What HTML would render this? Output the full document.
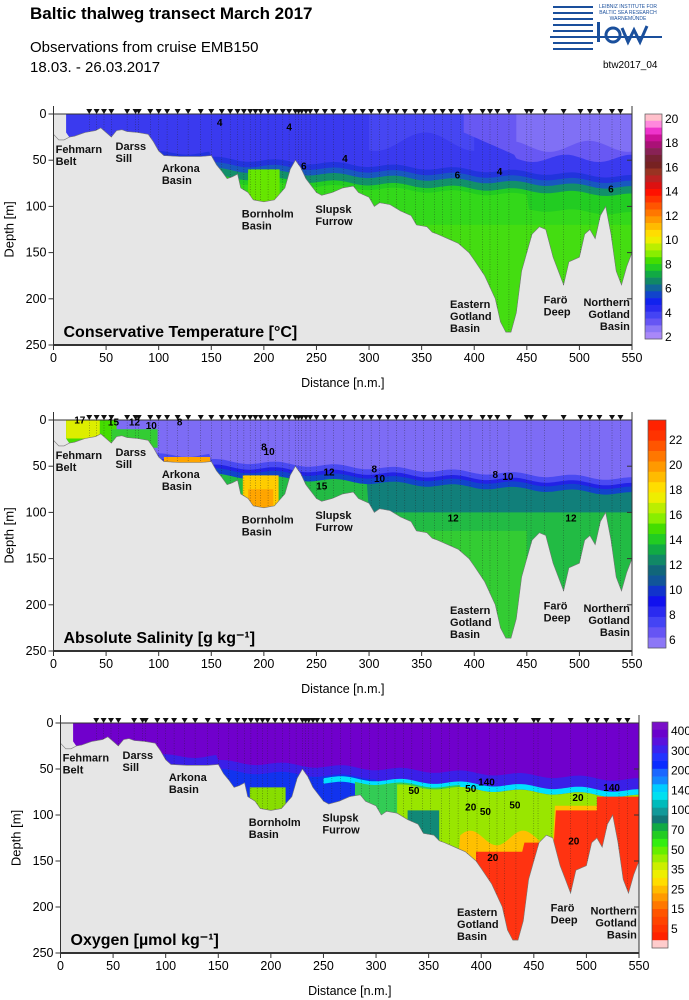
<!DOCTYPE html><html><head><meta charset="utf-8"><style>
body{margin:0;background:#fff;width:689px;height:1000px;overflow:hidden;font-family:"Liberation Sans",sans-serif}
svg{position:absolute;left:0;top:0}
</style></head><body>
<svg id="s" width="689" height="1000" xmlns="http://www.w3.org/2000/svg" font-family="Liberation Sans, sans-serif">
<text x="30" y="19" font-size="17" font-weight="bold">Baltic thalweg transect March 2017</text>
<text x="30" y="52" font-size="15">Observations from cruise EMB150</text>
<text x="30" y="72" font-size="15">18.03. - 26.03.2017</text>
<g fill="#1a4f9c">
<rect x="553" y="6" width="40" height="2"/><rect x="553" y="12" width="40" height="2"/><rect x="553" y="18" width="40" height="2"/><rect x="553" y="24" width="40" height="2"/><rect x="553" y="30" width="40" height="2"/><rect x="550" y="36" width="112" height="2"/><rect x="553" y="42" width="40" height="2"/><rect x="553" y="48" width="40" height="2"/>
<rect x="597" y="22" width="3" height="20"/><circle cx="613" cy="35" r="7" fill="none" stroke="#1a4f9c" stroke-width="3"/>
<path d="M622 28 L628 42 L634 30 L640 42 L647 26" fill="none" stroke="#1a4f9c" stroke-width="3"/>
<text x="628" y="8" font-size="5" text-anchor="middle">LEIBNIZ INSTITUTE FOR</text>
<text x="628" y="14" font-size="5" text-anchor="middle">BALTIC SEA RESEARCH</text>
<text x="628" y="20" font-size="5" text-anchor="middle">WARNEMÜNDE</text>
</g>
<text x="603" y="68" font-size="10">btw2017_04</text>
<g id="g"></g>
</svg>
<script>
var B=[[0,22],[5,28],[10,28],[15,25],[20,24],[25,22],[30,20],[40,18],[45,15],[50,20],[55,25],[60,18],[65,17],[70,19],[80,20],[90,22],[95,30],[100,40],[105,45],[120,46],[140,46],[150,45],[155,55],[160,62],[165,70],[170,68],[175,65],[178,80],[185,85],[190,93],[200,95],[210,93],[220,80],[225,60],[230,50],[235,58],[240,70],[250,85],[255,88],[265,85],[275,80],[285,78],[290,85],[300,90],[305,100],[310,96],[320,98],[330,105],[340,110],[345,120],[355,122],[360,128],[365,130],[375,135],[385,140],[395,150],[400,158],[410,175],[420,200],[425,225],[430,236],[435,236],[440,215],[445,170],[450,150],[455,130],[462,122],[468,125],[475,155],[480,170],[485,185],[490,160],[500,155],[505,130],[510,125],[515,135],[520,110],[525,100],[530,130],[535,170],[540,185],[545,165],[550,150]];
var ST=[34,41,48,55,70,78,81,92,100,108,118,128,140,150,160,168,175,181,187,192,197,204,211,218,224,230,233,236,240,244,250,258,266,276,286,294,302,310,318,326,334,344,352,362,370,378,387,396,408,415,422,433,450,454,467,485,501,510,519,531,539];
function th(x){var b=x<150?42:Math.min(48+(x-150)*0.05,68);return b+2*Math.sin(x/9);}
var out='',id=0;
function P(p){
 var sx=function(v){return p.x0+v*(p.x1-p.x0)/550},sy=function(d){return p.yt+d*(p.yb-p.yt)/250};
 var W=p.x1-p.x0,H=p.yb-p.yt;id++;
 out+='<rect x="'+p.x0+'" y="'+p.yt+'" width="'+W+'" height="'+H+'" fill="#e6e6e6"/>';
 var pts=[[12,0],[550,0]];for(var i=B.length-1;i>=0;i--){if(B[i][0]>=12)pts.push(B[i]);}
 pts.push([12,20]);
 var d='M'+pts.map(function(q){return sx(q[0]).toFixed(1)+' '+sy(q[1]).toFixed(1)}).join(' L')+'Z';
 out+='<clipPath id="c'+id+'"><path d="'+d+'"/></clipPath><g clip-path="url(#c'+id+')">';
 p.layers.forEach(function(L){
  var xa=L[3]||0,xb=L[4]||550,a=[],b=[];
  for(var x=xa;x<=xb;x+=2){a.push(sx(x).toFixed(1)+' '+sy(L[0](x)).toFixed(1));b.unshift(sx(x).toFixed(1)+' '+sy(L[1](x)).toFixed(1));}
  out+='<path d="M'+a.join(' L')+' L'+b.join(' L')+'Z" fill="'+L[2]+'"/>';
 });
 out+='</g>';
 var bd='M'+sx(0)+' '+sy(22)+' '+B.map(function(q){return 'L'+sx(q[0]).toFixed(1)+' '+sy(q[1]).toFixed(1)}).join(' ');
 out+='<path d="'+bd+'" fill="none" stroke="#777" stroke-width="0.6"/>';
 ST.forEach(function(s){var dd=250;for(var i=1;i<B.length;i++)if(B[i][0]>=s){var a=B[i-1],b=B[i];dd=a[1]+(b[1]-a[1])*(s-a[0])/(b[0]-a[0]);break;}
  out+='<line x1="'+sx(s)+'" y1="'+sy(0)+'" x2="'+sx(s)+'" y2="'+sy(dd)+'" stroke="#222" stroke-width="0.5" stroke-dasharray="1,1.5" opacity="0.7"/>';
  out+='<path d="M'+(sx(s)-3)+' '+(sy(0)-5)+' h6 l-3 5z" fill="#111"/>';});
 out+='<g stroke="#333" stroke-width="1" fill="none"><line x1="'+p.x0+'" y1="'+(p.yt-8)+'" x2="'+p.x0+'" y2="'+p.yb+'"/><line x1="'+p.x1+'" y1="'+(p.yt-8)+'" x2="'+p.x1+'" y2="'+p.yb+'"/><line x1="'+p.x0+'" y1="'+p.yt+'" x2="'+p.x1+'" y2="'+p.yt+'"/><line x1="'+p.x0+'" y1="'+p.yb+'" x2="'+p.x1+'" y2="'+p.yb+'" stroke-width="2"/>';
 for(var v=0;v<=550;v+=50)out+='<line x1="'+sx(v)+'" y1="'+p.yb+'" x2="'+sx(v)+'" y2="'+(p.yb+5)+'"/>';
 for(var d2=0;d2<=250;d2+=50)out+='<line x1="'+(p.x0-5)+'" y1="'+sy(d2)+'" x2="'+p.x0+'" y2="'+sy(d2)+'"/><line x1="'+p.x1+'" y1="'+sy(d2)+'" x2="'+(p.x1-5)+'" y2="'+sy(d2)+'"/>';
 out+='</g><g font-size="12.5" fill="#000">';
 for(var v=0;v<=550;v+=50)out+='<text x="'+sx(v)+'" y="'+(p.yb+17)+'" text-anchor="middle">'+v+'</text>';
 for(var d2=0;d2<=250;d2+=50)out+='<text x="'+(p.x0-7)+'" y="'+(sy(d2)+4)+'" text-anchor="end">'+d2+'</text>';
 out+='<text x="'+(sx(275))+'" y="'+(p.yb+42)+'" text-anchor="middle">Distance [n.m.]</text>';
 out+='<text transform="translate('+(p.x0-40)+','+(sy(125))+') rotate(-90)" text-anchor="middle" font-size="13">Depth [m]</text></g>';
 var lab=[[2,42,'Fehmarn','Belt','start'],[59,39,'Darss','Sill','start'],[103,63,'Arkona','Basin','start'],[179,112,'Bornholm','Basin','start'],[249,107,'Slupsk','Furrow','start'],[377,210,'Eastern','Gotland','start','Basin'],[466,205,'Farö','Deep','start'],[548,208,'Northern','Gotland','end','Basin']];
 out+='<g font-size="11" font-weight="bold" fill="#111">';
 lab.forEach(function(l){var x=sx(l[0]),y=sy(l[1]);out+='<text x="'+x+'" y="'+y+'" text-anchor="'+l[4]+'">'+l[2]+'</text><text x="'+x+'" y="'+(y+12)+'" text-anchor="'+l[4]+'">'+l[3]+'</text>';if(l[5])out+='<text x="'+x+'" y="'+(y+24)+'" text-anchor="'+l[4]+'">'+l[5]+'</text>';});
 out+='</g><text x="'+(p.x0+10)+'" y="'+(p.yb-8)+'" font-size="16" font-weight="bold">'+p.title+'</text>';
 var n=p.cb.length,h=(p.cby1-p.cby0)/n;
 p.cb.forEach(function(c,i){out+='<rect x="'+p.cbx+'" y="'+(p.cby0+i*h).toFixed(1)+'" width="'+p.cbw+'" height="'+(h+0.3).toFixed(1)+'" fill="'+c+'"/>';});
 out+='<rect x="'+p.cbx+'" y="'+p.cby0+'" width="'+p.cbw+'" height="'+(p.cby1-p.cby0)+'" fill="none" stroke="#555" stroke-width="0.7"/>';
 p.cbl.forEach(function(l){out+='<text x="'+(p.cbx+p.cbw+3)+'" y="'+(l[1]+4)+'" font-size="12">'+l[0]+'</text>';});
 (p.cl||[]).forEach(function(c){out+='<text x="'+sx(c[0])+'" y="'+sy(c[1])+'" font-size="10" font-weight="bold" text-anchor="middle">'+c[2]+'</text>';});
}
function C(v){return function(){return v}}
function T(o){return function(x){return th(x)+o}}
var tcb=['#ffc0cb','#ff88dd','#ee33cc','#cc1199','#aa1177','#882255','#772233','#772222','#993322','#bb2222','#dd1111','#ff1100','#ff3300','#ff5500','#ff7700','#ff9900','#ffbb00','#ffdd00','#eeee00','#bbee00','#88ee00','#44dd00','#22cc22','#11aa44','#118866','#116699','#1144cc','#1122ee','#2a2af0','#4444f4','#6655f4','#8c77f6','#a988f8'];
var tl=[];for(var k=0;k<10;k++)tl.push([20-2*k,119+k*((337-119)/9)]);
P({x0:53.5,x1:632,yt:114,yb:345,title:'Conservative Temperature [°C]',cbx:645,cbw:17,cby0:114,cby1:339,cb:tcb,cbl:tl,
layers:[[C(0),C(250),'#3a3aef'],[C(0),function(x){return 30+10*Math.sin(x/15)},'#4646f2',300,400],[C(0),function(x){return x<440?20+(x-390)*0.5:48+4*Math.sin(x/10)},'#6858f3',390,550],[C(0),function(x){return 35+6*Math.sin(x/12)},'#8070f5',440,550],[T(0),T(8),'#2233dd'],[T(6),T(14),'#1858c0'],[T(12),T(22),'#12906a'],[T(20),C(250),'#22cc22'],[function(x){return th(x)+25+(x>450?15:0)},C(250),'#33d81a'],[C(120),C(250),'#44dd11'],[C(60),C(100),'#66e600',185,215]],
cl:[[158,13,'4'],[224,18,'4'],[277,52,'4'],[384,70,'6'],[424,66,'4'],[530,85,'6'],[238,60,'6']]});
var scb=['#ff2200','#ff3300','#ff5500','#ff7700','#ff9900','#ffbb00','#ffdd00','#eeee00','#bbee00','#88ee00','#44dd00','#22cc22','#11aa44','#118866','#11667a','#115599','#1133cc','#1111ee','#2a2af0','#4444f4','#6655f4','#8c77f6'];
var sl=[];for(var k=0;k<9;k++)sl.push([22-2*k,440+k*((640-440)/8)]);
P({x0:53.5,x1:632,yt:420,yb:651,title:'Absolute Salinity [g kg⁻¹]',cbx:648,cbw:18,cby0:420,cby1:648,cb:scb,cbl:sl,
layers:[[C(0),C(250),'#7d6cf5'],[C(0),C(30),'#44dd00',10,60],[C(0),C(20),'#ddee00',10,45],[C(10),C(30),'#33cc33',55,100],[T(-4),T(4),'#4a4af2'],[T(2),T(8),'#2222e6'],[T(6),T(14),'#1144cc'],[T(12),C(250),'#117f7a'],[function(x){return x<300?th(x)+12:100},C(250),'#22bb44'],[C(120),C(250),'#33cc33',340,450],[C(60),C(120),'#ffcc00',180,215],[C(75),C(120),'#ffa500',185,210],[C(40),C(60),'#ffa500',105,150]],
cl:[[25,4,'17'],[57,6,'15'],[77,6,'12'],[93,10,'10'],[120,6,'8'],[200,33,'8'],[205,38,'10'],[262,60,'12'],[255,75,'15'],[305,57,'8'],[310,67,'10'],[420,63,'8'],[432,65,'10'],[380,110,'12'],[492,110,'12']]});
var ocb=['#7a10c8','#6a00cc','#5a11dd','#3b22ee','#2233ff','#0a2bff','#1a66ff','#1188ff','#00ccff','#00e0f0','#00bbbb','#119999','#117777','#11aa44','#22cc22','#33ee11','#66ee00','#99ee00','#ccee00','#eeee00','#ffdd00','#ffbb00','#ff9900','#ff7700','#ff5500','#ff4400','#ff3300','#ff2200','#ffcccc'];
var ol2=[];var lbs=['400','300','200','140','100','70','50','35','25','15','5'];for(var k=0;k<11;k++)ol2.push([lbs[k],731+k*((929-731)/10)]);
P({x0:60.5,x1:639,yt:723,yb:953,title:'Oxygen [µmol kg⁻¹]',cbx:652,cbw:16,cby0:722,cby1:948,cb:ocb,cbl:ol2,
layers:[[C(0),C(250),'#7000cc'],[T(-6),T(10),'#3a1fe8'],[T(4),C(250),'#1133ee',150,300],[T(6),T(12),'#00e0ff',250,550],[T(10),C(250),'#33cc55',280,380],[T(12),C(250),'#99e600',320,550],[C(95),C(250),'#118877',330,360],[function(x){return x<380?150:(x<470?125+8*Math.sin(x/8):90)},C(250),'#ffc000',370,550],[function(x){return x<440?140:(x<470?130:95)},C(250),'#ff3311',395,550],[C(80),C(250),'#ff3311',510,550],[C(70),C(95),'#88dd00',180,215]],
cl:[[336,77,'50'],[390,75,'50'],[405,68,'140'],[390,95,'20'],[404,100,'50'],[432,93,'50'],[492,85,'20'],[488,132,'20'],[411,150,'20'],[524,74,'140']]});
document.getElementById('g').innerHTML=out;
</script>
</body></html>
